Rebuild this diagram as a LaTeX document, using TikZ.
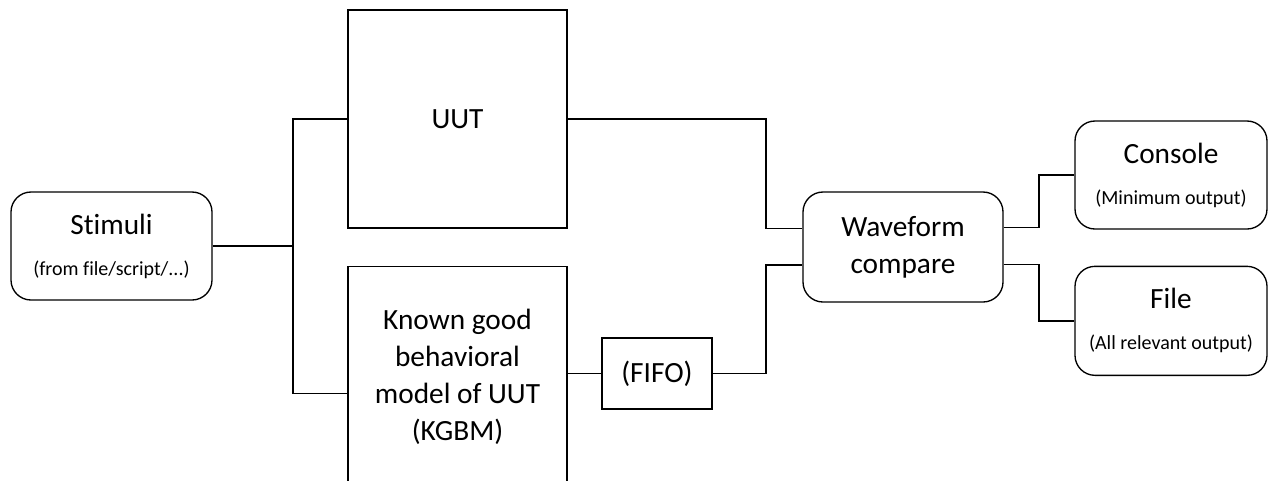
\documentclass[tikz,border=0pt]{standalone}
\usepackage{fontspec}
\setmainfont{Carlito}[Ligatures=NoCommon]
\usetikzlibrary{positioning}

\newcommand{\bigtxt}{\fontsize{22}{27.75}\selectfont}
\newcommand{\smalltxt}{\fontsize{15}{18}\selectfont}

\begin{document}
\begin{tikzpicture}[
  x=0.75pt, y=-0.75pt,
  block/.style={rectangle, draw, line width=1pt, inner sep=0pt, align=center, font=\bigtxt},
  rblock/.style={block, rounded corners=15pt},
  wire/.style={line width=1pt}
]
\clip (0,0) rectangle (1268,480);

\node[rblock, minimum width=150.75pt, minimum height=81pt] (stim) at (111.5,246)
  {Stimuli\\[3pt]{\smalltxt (from file/script/...)}};
\node[block, minimum width=164.25pt, minimum height=163.5pt] (uut) at (457.5,119) {UUT};
\node[block, minimum width=164.25pt, minimum height=166.5pt, below=27.75pt of uut] (kgbm)
  {Known good\\behavioral\\model of UUT\\(KGBM)};
\node[block, minimum width=82.5pt, minimum height=53.25pt] (fifo) at (657,373.5) {(FIFO)};
\node[rblock, minimum width=150pt, minimum height=82.5pt] (wave) at (903,247) {Waveform\\compare};
\node[rblock, minimum width=144pt, minimum height=81pt] (console) at (1171,175)
  {Console\\[3pt]{\smalltxt (Minimum output)}};
\node[rblock, minimum width=144pt, minimum height=81.75pt, below=27pt of console] (file)
  {File\\[3pt]{\smalltxt (All relevant output)}};

% junctions
\coordinate (split) at (293,246);
\coordinate (jin) at (766,0);
\coordinate (jout) at (1039,0);
\coordinate (waveU) at ([yshift=14pt]wave.west);
\coordinate (waveL) at ([yshift=-13.5pt]wave.west);
\coordinate (waveUR) at ([yshift=14.5pt]wave.east);
\coordinate (waveLR) at ([yshift=-13pt]wave.east);

\draw[wire] (stim.east) -- (split) |- (uut.west);
\draw[wire] (split) |- ([yshift=-12pt]kgbm.west);
\draw[wire] (kgbm.east |- fifo.west) -- (fifo.west);
\draw[wire] (uut.east) -| (jin |- waveU) -- (waveU);
\draw[wire] (fifo.east) -| (jin |- waveL) -- (waveL);
\draw[wire] (waveUR) -| (jout |- console.west) -- (console.west);
\draw[wire] (waveLR) -| (jout |- file.west) -- (file.west);
\end{tikzpicture}
\end{document}
